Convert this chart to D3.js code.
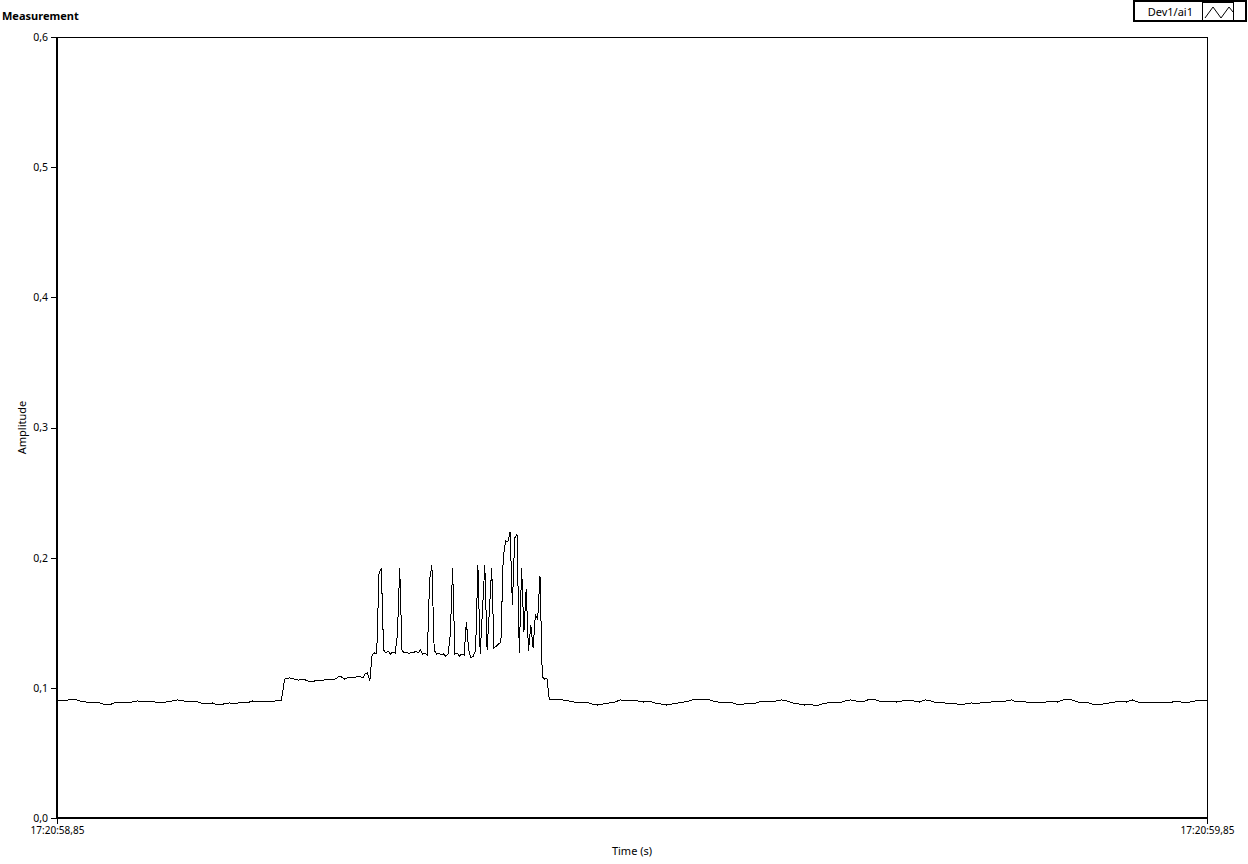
<!DOCTYPE html>
<html><head><meta charset="utf-8">
<script src="https://cdn.jsdelivr.net/npm/d3@7"></script>
<style>
body{margin:0;background:#fff;}
svg{display:block;font-family:"Noto Sans",sans-serif;}
</style>
</head><body>
<svg id="chart" width="1248" height="864"></svg>
<script>
// ---------- data ----------
const chartTitle = "Measurement";
const seriesName = "Dev1/ai1";
const xAxisTitle = "Time (s)";
const yAxisTitle = "Amplitude";
const xTickValues = [0, 1000];            // ms after 17:20:58,85
const xTickLabels = ["17:20:58,85", "17:20:59,85"];
const yTickValues = [0, 0.1, 0.2, 0.3, 0.4, 0.5, 0.6];

// segment start times (ms) and sample steps (ms)
const segmentStarts = [0, 198, 268, 430];
const segmentSteps = [5, 4, 2, 5];

const baselineBefore = [
  0.0907,0.0899,0.0907,0.0914,0.0899,0.0891,0.0884,0.0891,0.0876,0.0868,
  0.0884,0.0891,0.0884,0.0891,0.0899,0.0891,0.0899,0.0891,0.0884,0.0891,
  0.0899,0.0907,0.0899,0.0891,0.0899,0.0884,0.0876,0.0884,0.0868,0.0876,
  0.0884,0.0876,0.0891,0.0884,0.0899,0.0891,0.0899,0.0891,0.0899,0.0899
];
const firstStep = [
  0.1068,0.1076,0.1068,0.1060,0.1068,0.1053,0.1045,0.1060,0.1053,0.1068,
  0.1060,0.1068,0.1091,0.1068,0.1083,0.1076,0.1091,0.1076
];
const burst = [
  0.1106,0.1114,0.1053,0.1252,0.1268,0.1260,0.1875,0.1921,0.1290,0.1268,
  0.1283,0.1260,0.1275,0.1268,0.1406,0.1921,0.1290,0.1268,0.1275,0.1260,
  0.1275,0.1268,0.1283,0.1268,0.1290,0.1260,0.1268,0.1252,0.1829,0.1944,
  0.1290,0.1260,0.1268,0.1252,0.1260,0.1244,0.1260,0.1406,0.1921,0.1260,
  0.1268,0.1244,0.1260,0.1252,0.1506,0.1290,0.1229,0.1244,0.1290,0.1944,
  0.1260,0.1598,0.1944,0.1290,0.1598,0.1921,0.1306,0.1321,0.1337,0.1351,
  0.1997,0.2128,0.2121,0.2197,0.1637,0.2151,0.2182,0.1268,0.1921,0.1429,
  0.1760,0.1283,0.1483,0.1306,0.1560,0.1529,0.1860,0.1083,0.1068,0.1076,
  0.0914
];
const baselineAfter = [
  0.0914,0.0914,0.0907,0.0899,0.0891,0.0884,0.0891,0.0876,0.0868,0.0876,
  0.0884,0.0891,0.0907,0.0899,0.0907,0.0899,0.0891,0.0899,0.0884,0.0876,
  0.0868,0.0876,0.0884,0.0891,0.0899,0.0914,0.0907,0.0914,0.0899,0.0891,
  0.0884,0.0891,0.0876,0.0868,0.0884,0.0876,0.0891,0.0899,0.0891,0.0899,
  0.0907,0.0899,0.0884,0.0876,0.0868,0.0876,0.0861,0.0876,0.0884,0.0891,
  0.0884,0.0899,0.0907,0.0899,0.0891,0.0907,0.0914,0.0899,0.0891,0.0899,
  0.0891,0.0899,0.0907,0.0899,0.0891,0.0907,0.0899,0.0884,0.0891,0.0876,
  0.0884,0.0868,0.0876,0.0884,0.0876,0.0891,0.0884,0.0899,0.0891,0.0899,
  0.0907,0.0891,0.0899,0.0884,0.0891,0.0884,0.0891,0.0899,0.0891,0.0907,
  0.0914,0.0899,0.0884,0.0891,0.0876,0.0868,0.0876,0.0884,0.0891,0.0899,
  0.0891,0.0907,0.0891,0.0884,0.0891,0.0884,0.0891,0.0884,0.0891,0.0899,
  0.0884,0.0891,0.0899,0.0899,0.0907
];
const segments = [baselineBefore, firstStep, burst, baselineAfter];

// ---------- build points ----------
const points = [];
segments.forEach((vals, i) => {
  vals.forEach((v, j) => points.push({t: segmentStarts[i] + j * segmentSteps[i], v}));
});

// ---------- layout ----------
const svg = d3.select("#chart");
const L = 57, R = 1207, T = 37, B = 818;
const x = d3.scaleLinear().domain([0, 1000]).range([L, R]);
const y = d3.scaleLinear().domain([0, 0.6]).range([B, T]);

// title
svg.append("text").attr("x", 2).attr("y", 20)
  .attr("font-size", 11).attr("font-weight", "bold").attr("fill", "#000")
  .text(chartTitle);

// plot frame
svg.append("rect").attr("x", L + 0.5).attr("y", T + 0.5)
  .attr("width", R - L).attr("height", B - T)
  .attr("fill", "#fff").attr("stroke", "#000").attr("stroke-width", 1)
  .attr("shape-rendering", "crispEdges");
svg.append("line").attr("x1", L).attr("x2", L).attr("y1", T).attr("y2", B + 1)
  .attr("stroke", "#000").attr("stroke-width", 2).attr("shape-rendering", "crispEdges");
svg.append("line").attr("x1", L).attr("x2", R + 1).attr("y1", B).attr("y2", B)
  .attr("stroke", "#000").attr("stroke-width", 2).attr("shape-rendering", "crispEdges");

// y axis
const yAxis = d3.axisLeft(y).tickValues(yTickValues).tickSize(5).tickPadding(3)
  .tickFormat(d => d3.format(".1f")(d).replace(".", ","));
const gy = svg.append("g").attr("transform", `translate(${L - 1},0)`).call(yAxis);
gy.select(".domain").remove();
gy.selectAll(".tick line").attr("stroke", "#000").attr("shape-rendering", "crispEdges");
gy.selectAll(".tick text").attr("font-size", 10.5).attr("fill", "#000")
  .attr("font-family", '"Noto Sans",sans-serif');

// x axis
const xAxis = d3.axisBottom(x).tickValues(xTickValues).tickSize(5).tickPadding(3)
  .tickFormat((d, i) => xTickLabels[i]);
const gx = svg.append("g").attr("transform", `translate(0,${B + 1})`).call(xAxis);
gx.select(".domain").remove();
gx.selectAll(".tick line").attr("stroke", "#000").attr("shape-rendering", "crispEdges");
gx.selectAll(".tick text").attr("font-size", 10).attr("fill", "#000")
  .attr("font-family", '"Noto Sans",sans-serif');

// axis titles
svg.append("text").attr("x", (L + R) / 2).attr("y", 855)
  .attr("text-anchor", "middle").attr("font-size", 11).attr("fill", "#000")
  .text(xAxisTitle);
svg.append("text").attr("transform", `translate(26,${(T + B) / 2}) rotate(-90)`)
  .attr("text-anchor", "middle").attr("font-size", 11).attr("fill", "#000")
  .text(yAxisTitle);

// series line
const line = d3.line().x(d => x(d.t)).y(d => y(d.v));
svg.append("path").datum(points).attr("d", line)
  .attr("fill", "none").attr("stroke", "#000").attr("stroke-width", 1)
  .attr("shape-rendering", "crispEdges");

// legend
const lg = svg.append("g");
lg.append("rect").attr("x", 1134).attr("y", 1).attr("width", 112).attr("height", 20)
  .attr("fill", "#fff").attr("stroke", "#000").attr("stroke-width", 2);
lg.append("text").attr("x", 1193).attr("y", 16).attr("text-anchor", "end")
  .attr("font-size", 11).attr("fill", "#000").text(seriesName);
lg.append("rect").attr("x", 1202.5).attr("y", 2.5).attr("width", 31).attr("height", 18)
  .attr("fill", "#fff").attr("stroke", "#000").attr("stroke-width", 1);
const icon = [[1205, 18], [1213, 7], [1221, 18], [1229, 7], [1233, 12]];
lg.append("path").attr("d", d3.line()(icon)).attr("fill", "none")
  .attr("stroke", "#000").attr("stroke-width", 1);
</script>
</body></html>
